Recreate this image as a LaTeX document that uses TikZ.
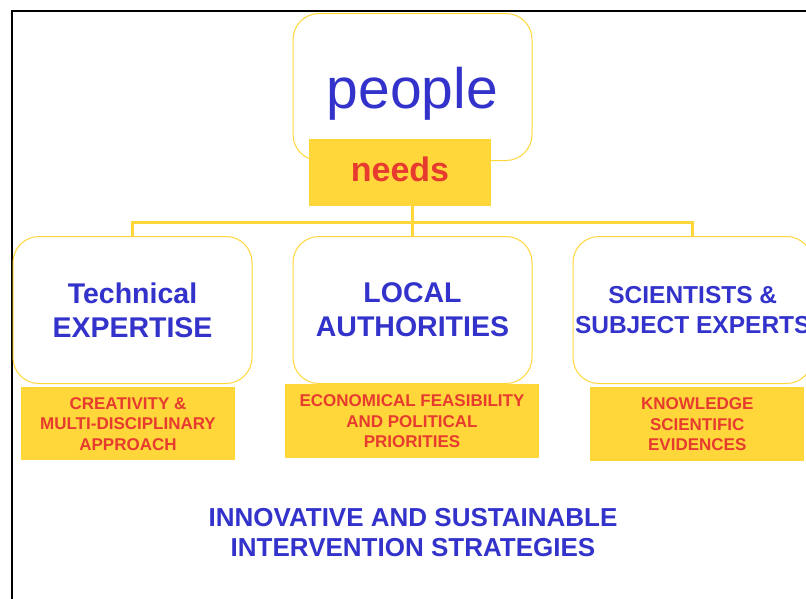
\documentclass[tikz,border=0pt]{standalone}
\usepackage{fontspec}
\setmainfont{Liberation Sans}
\usetikzlibrary{positioning}
\definecolor{peopleblue}{HTML}{3333CC}
\definecolor{needsred}{HTML}{E63B2E}
\definecolor{needsyellow}{HTML}{FFD73A}
\tikzset{
  actor/.style={rectangle, rounded corners=26pt, draw=needsyellow, line width=1pt, fill=white, minimum width=239pt, minimum height=147pt, inner sep=2pt, align=center, text=peopleblue, font=\bfseries\fontsize{28.5}{34}\selectfont},
  tag/.style={rectangle, fill=needsyellow, text=needsred, inner sep=0pt, align=center, font=\bfseries\fontsize{17}{20.5}\selectfont},
  link/.style={draw=needsyellow, line width=3pt}
}
\begin{document}
\begin{tikzpicture}[x=1pt, y=-1pt, node distance=3pt]
\useasboundingbox (0,0) rectangle (806,598);

% --- Marco ---
\draw[line width=2pt] (900,11) -- (12,11) -- (12,700);

% --- Nodo central ---
\node (people) [actor, font=\fontsize{57}{60}\selectfont, text height=42pt, text depth=0pt] at (412.5,87) {people};
\node (needs) [tag, minimum width=182pt, minimum height=67pt, font=\bfseries\fontsize{34}{40}\selectfont, text depth=7pt] at (400,172.5) {needs};

% --- Actores ---
\node (local) [actor, below=75pt of people] {LOCAL\\AUTHORITIES};
\node (tech) [actor, left=40pt of local] {Technical\\EXPERTISE};
\node (sci) [actor, right=40pt of local, font=\bfseries\fontsize{24.5}{30}\selectfont] {SCIENTISTS \&\\SUBJECT EXPERTS};

% --- Etiquetas ---
\node (creativity) [tag, below=3pt of tech, xshift=-4.5pt, minimum width=214pt, minimum height=73pt] {CREATIVITY \&\\MULTI-DISCIPLINARY\\APPROACH};
\node (feasibility) [tag, below=0pt of local, xshift=-0.5pt, minimum width=254pt, minimum height=74pt] {ECONOMICAL FEASIBILITY\\AND POLITICAL\\PRIORITIES};
\node (knowledge) [tag, below=3pt of sci, xshift=4.5pt, minimum width=214pt, minimum height=74pt] {KNOWLEDGE\\SCIENTIFIC\\EVIDENCES};

\node (strategies) [text=peopleblue, align=center, font=\bfseries\fontsize{26}{30}\selectfont] at (413,533) {INNOVATIVE AND SUSTAINABLE\\INTERVENTION STRATEGIES};

% --- Conexiones ---
\coordinate (bar) at (412.5,222.3);
\draw [link] (people.center |- needs.south) -- (local.north);
\draw [link] (tech.north) |- (bar) -| (sci.north);

\end{tikzpicture}
\end{document}
